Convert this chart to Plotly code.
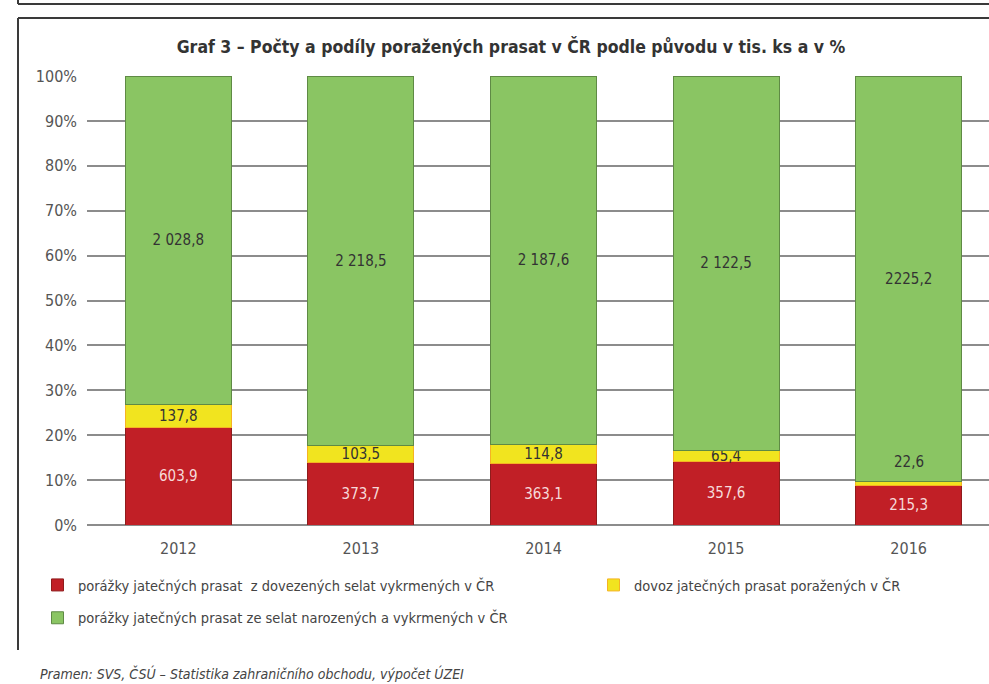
import plotly.graph_objects as go

years = ["2012", "2013", "2014", "2015", "2016"]

# tis. ks
dovezena_selata = [603.9, 373.7, 363.1, 357.6, 215.3]
dovoz_prasat = [137.8, 103.5, 114.8, 65.4, 22.6]
domaci_selata = [2028.8, 2218.5, 2187.6, 2122.5, 2225.2]

red_text = ["603,9", "373,7", "363,1", "357,6", "215,3"]
yellow_text = ["137,8", "103,5", "114,8", "65,4", "22,6"]
green_text = ["2 028,8", "2 218,5", "2 187,6", "2 122,5", "2225,2"]

names = [
    "porážky jatečných prasat  z dovezených selat vykrmených v ČR",
    "dovoz jatečných prasat poražených v ČR",
    "porážky jatečných prasat ze selat narozených a vykrmených v ČR",
]

FONT = "DejaVu Sans Condensed"
W, H = 989, 684
L, R, T, B = 87, 0, 76, 684 - 525
PW, PH = W - L - R, H - T - B


def px_x(x):
    # pixel -> paper fraction
    return (x - L) / PW


def px_y(y):
    return (H - B - y) / PH


fig = go.Figure()

# yellow label for 2016 doesn't fit, it is put above the band instead
yellow_inside = yellow_text[:-1] + [""]

fig.add_trace(go.Bar(
    x=years, y=dovezena_selata, name=names[0], text=red_text,
    marker=dict(color="#C11F26", line=dict(color="#8f1c1c", width=1)),
    textfont=dict(color="#f6dada", size=15, family=FONT),
    legend="legend", legendgroup="a",
))
fig.add_trace(go.Bar(
    x=years, y=dovoz_prasat, name=names[1], text=yellow_inside,
    marker=dict(color="#F1E41F", line=dict(color="#f5b323", width=1)),
    textfont=dict(color="#333333", size=15, family=FONT),
    legend="legend2", legendgroup="b",
))
fig.add_trace(go.Bar(
    x=years, y=domaci_selata, name=names[2], text=green_text,
    marker=dict(color="#8AC563", line=dict(color="#5f8a45", width=1)),
    textfont=dict(color="#333333", size=15, family=FONT),
    legend="legend", legendgroup="c",
))

fig.update_traces(textposition="inside", insidetextanchor="middle",
                  textangle=0, constraintext="none", width=0.58)

total_2016 = dovezena_selata[-1] + dovoz_prasat[-1] + domaci_selata[-1]
fig.add_annotation(
    x=len(years) - 1,
    y=(dovezena_selata[-1] + dovoz_prasat[-1]) / total_2016 * 100,
    text=yellow_text[-1], showarrow=False, yanchor="bottom", yshift=9,
    font=dict(color="#333333", size=15, family=FONT),
)

fig.add_annotation(
    xref="paper", yref="paper", x=px_x(38), y=px_y(673),
    xanchor="left", yanchor="middle", showarrow=False,
    text="<i>Pramen: SVS, ČSÚ – Statistika zahraničního obchodu, výpočet ÚZEI</i>",
    font=dict(color="#444444", size=14, family=FONT),
)

# frame lines
frame = dict(color="#3a3a3a", width=2)
for x0, y0, x1, y1 in [(18, -5, 18, 4), (18, 4, 1000, 4),
                       (18, 18, 18, 650), (18, 18, 1000, 18)]:
    fig.add_shape(type="line", xref="paper", yref="paper",
                  x0=px_x(x0), y0=px_y(y0), x1=px_x(x1), y1=px_y(y1),
                  line=frame, layer="above")

fig.update_layout(
    barmode="stack",
    barnorm="percent",
    width=W, height=H,
    margin=dict(l=L, r=R, t=T, b=B, autoexpand=False),
    paper_bgcolor="white",
    plot_bgcolor="white",
    font=dict(family=FONT, size=16, color="#555555"),
    title=dict(
        text="<b>Graf 3 – Počty a podíly poražených prasat v ČR podle původu v tis. ks a v %</b>",
        x=511 / W, xanchor="center", xref="container",
        y=1 - 47 / H, yanchor="middle", yref="container",
        font=dict(family=FONT, size=17.5, color="#333333"),
    ),
    xaxis=dict(type="category", range=[-0.5, 4.44], showgrid=False,
               showline=False, ticks="", ticklabelstandoff=12,
               tickfont=dict(size=16, color="#555555")),
    yaxis=dict(range=[0, 100], dtick=10, ticksuffix="%",
               showgrid=True, gridcolor="#8c8c8c", gridwidth=1.5,
               zeroline=True, zerolinecolor="#8c8c8c", zerolinewidth=1.5,
               ticks="", ticklabelstandoff=9,
               tickfont=dict(size=16, color="#555555")),
    legend=dict(
        xref="container", yref="container",
        x=37 / W, y=1 - 569 / H,
        xanchor="left", yanchor="top", orientation="v",
        traceorder="grouped", tracegroupgap=11, itemwidth=31,
        font=dict(size=14.5, color="#444444", family=FONT),
        bgcolor="rgba(0,0,0,0)",
    ),
    legend2=dict(
        xref="container", yref="container",
        x=593 / W, y=1 - 569 / H,
        xanchor="left", yanchor="top", orientation="v", itemwidth=31,
        font=dict(size=14.5, color="#444444", family=FONT),
        bgcolor="rgba(0,0,0,0)",
    ),
    showlegend=True,
)

# page body has a default margin; drop it so the figure sits at (0, 0)
fig.write_html("out.html", config={"displayModeBar": False},
               post_script="document.body.style.margin='0';")
